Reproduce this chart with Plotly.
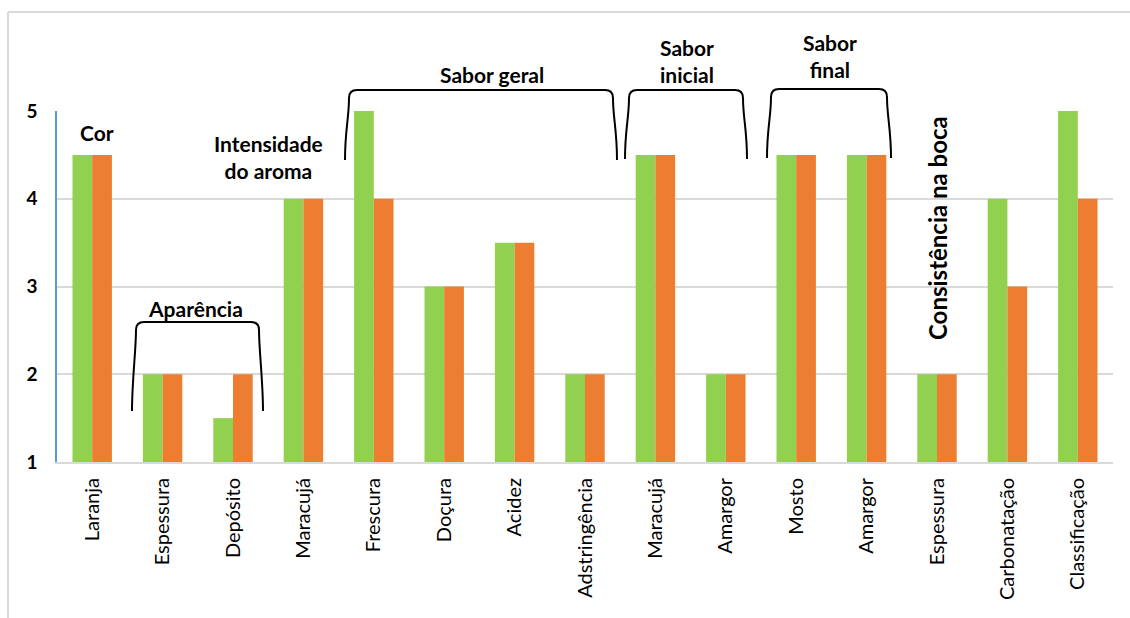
import plotly.graph_objects as go

categories = ["Laranja", "Espessura", "Depósito", "Maracujá", "Frescura", "Doçura",
              "Acidez", "Adstringência", "Maracujá", "Amargor", "Mosto", "Amargor",
              "Espessura", "Carbonatação", "Classificação"]
series_green = [4.5, 2, 1.5, 4, 5, 3, 3.5, 2, 4.5, 2, 4.5, 4.5, 2, 4, 5]
series_orange = [4.5, 2, 2, 4, 4, 3, 3.5, 2, 4.5, 2, 4.5, 4.5, 2, 3, 4]
y_ticks = [1, 2, 3, 4, 5]

W, H = 1130, 618
L, R, T, B = 57, 1113, 111, 462

def px(x):
    return (x - L) / (R - L)

def py(y):
    return (B - y) / (B - T)

idx = list(range(len(categories)))

fig = go.Figure()
fig.add_trace(go.Bar(x=idx, y=[v - 1 for v in series_green], base=1,
                     marker=dict(color="#92D050", line=dict(width=0)), name="A"))
fig.add_trace(go.Bar(x=idx, y=[v - 1 for v in series_orange], base=1,
                     marker=dict(color="#ED7D31", line=dict(width=0)), name="B"))

shapes = []
# outer frame (top and left lines)
shapes.append(dict(type="line", xref="paper", yref="paper", x0=px(8), x1=px(1130),
                   y0=py(12), y1=py(12), line=dict(color="#D9D9D9", width=2)))
shapes.append(dict(type="line", xref="paper", yref="paper", x0=px(8), x1=px(8),
                   y0=py(12), y1=py(618), line=dict(color="#D9D9D9", width=2)))

def bracket(x0, x1, ytop, ybot):
    r = 8
    f = 4
    p = (f"M {px(x0)},{py(ybot)} "
         f"C {px(x0)},{py(ybot-30)} {px(x0+f)},{py(ytop+r+20)} {px(x0+f)},{py(ytop+r)} "
         f"Q {px(x0+f)},{py(ytop)} {px(x0+f+r)},{py(ytop)} "
         f"L {px(x1-f-r)},{py(ytop)} "
         f"Q {px(x1-f)},{py(ytop)} {px(x1-f)},{py(ytop+r)} "
         f"C {px(x1-f)},{py(ytop+r+20)} {px(x1)},{py(ybot-30)} {px(x1)},{py(ybot)}")
    return dict(type="path", xref="paper", yref="paper", path=p,
                line=dict(color="black", width=2))

shapes.append(bracket(132, 263, 322, 411))
shapes.append(bracket(345, 617, 90, 160))
shapes.append(bracket(625, 747, 90, 159))
shapes.append(bracket(767, 891, 89, 158))

FAM = "Lato, Open Sans, sans-serif"
ann = []
def label(text, x, y, angle=0, size=21):
    ann.append(dict(text=text, xref="paper", yref="paper", x=px(x), y=py(y),
                    showarrow=False, font=dict(family=FAM, size=size, color="black"),
                    textangle=angle, xanchor="center", yanchor="middle"))

label("<b>Cor</b>", 97, 132)
label("<b>Intensidade<br>do aroma</b>", 268, 157)
label("<b>Aparência</b>", 195, 308)
label("<b>Sabor geral</b>", 492, 75)
label("<b>Sabor<br>inicial</b>", 687, 61)
label("<b>Sabor<br>final</b>", 830, 56)
label("<b>Consistência na boca</b>", 937, 228, -90, 24)

fig.update_layout(
    width=W, height=H,
    margin=dict(l=L, r=W - R, t=T, b=H - B),
    paper_bgcolor="white", plot_bgcolor="white",
    barmode="group", bargap=0.44, bargroupgap=0,
    showlegend=False,
    shapes=shapes, annotations=ann,
    xaxis=dict(tickmode="array", tickvals=idx, ticktext=categories,
               tickangle=-90, range=[-0.5, len(categories) - 0.5],
               showline=True, linecolor="#D9D9D9", linewidth=2,
               showgrid=False, zeroline=False, ticks="", ticklabelstandoff=6,
               tickfont=dict(family=FAM, size=20, color="black")),
    yaxis=dict(range=[1, 5], tickmode="array", tickvals=y_ticks,
               ticktext=[f"<b>{v}</b>" for v in y_ticks],
               showgrid=True, gridcolor="#D9D9D9", gridwidth=2,
               showline=True, linecolor="#5B9BD5", linewidth=1.5,
               zeroline=False, ticks="", ticklabelstandoff=14,
               tickfont=dict(family=FAM, size=19, color="black")),
)

fig.write_html("out.html")
